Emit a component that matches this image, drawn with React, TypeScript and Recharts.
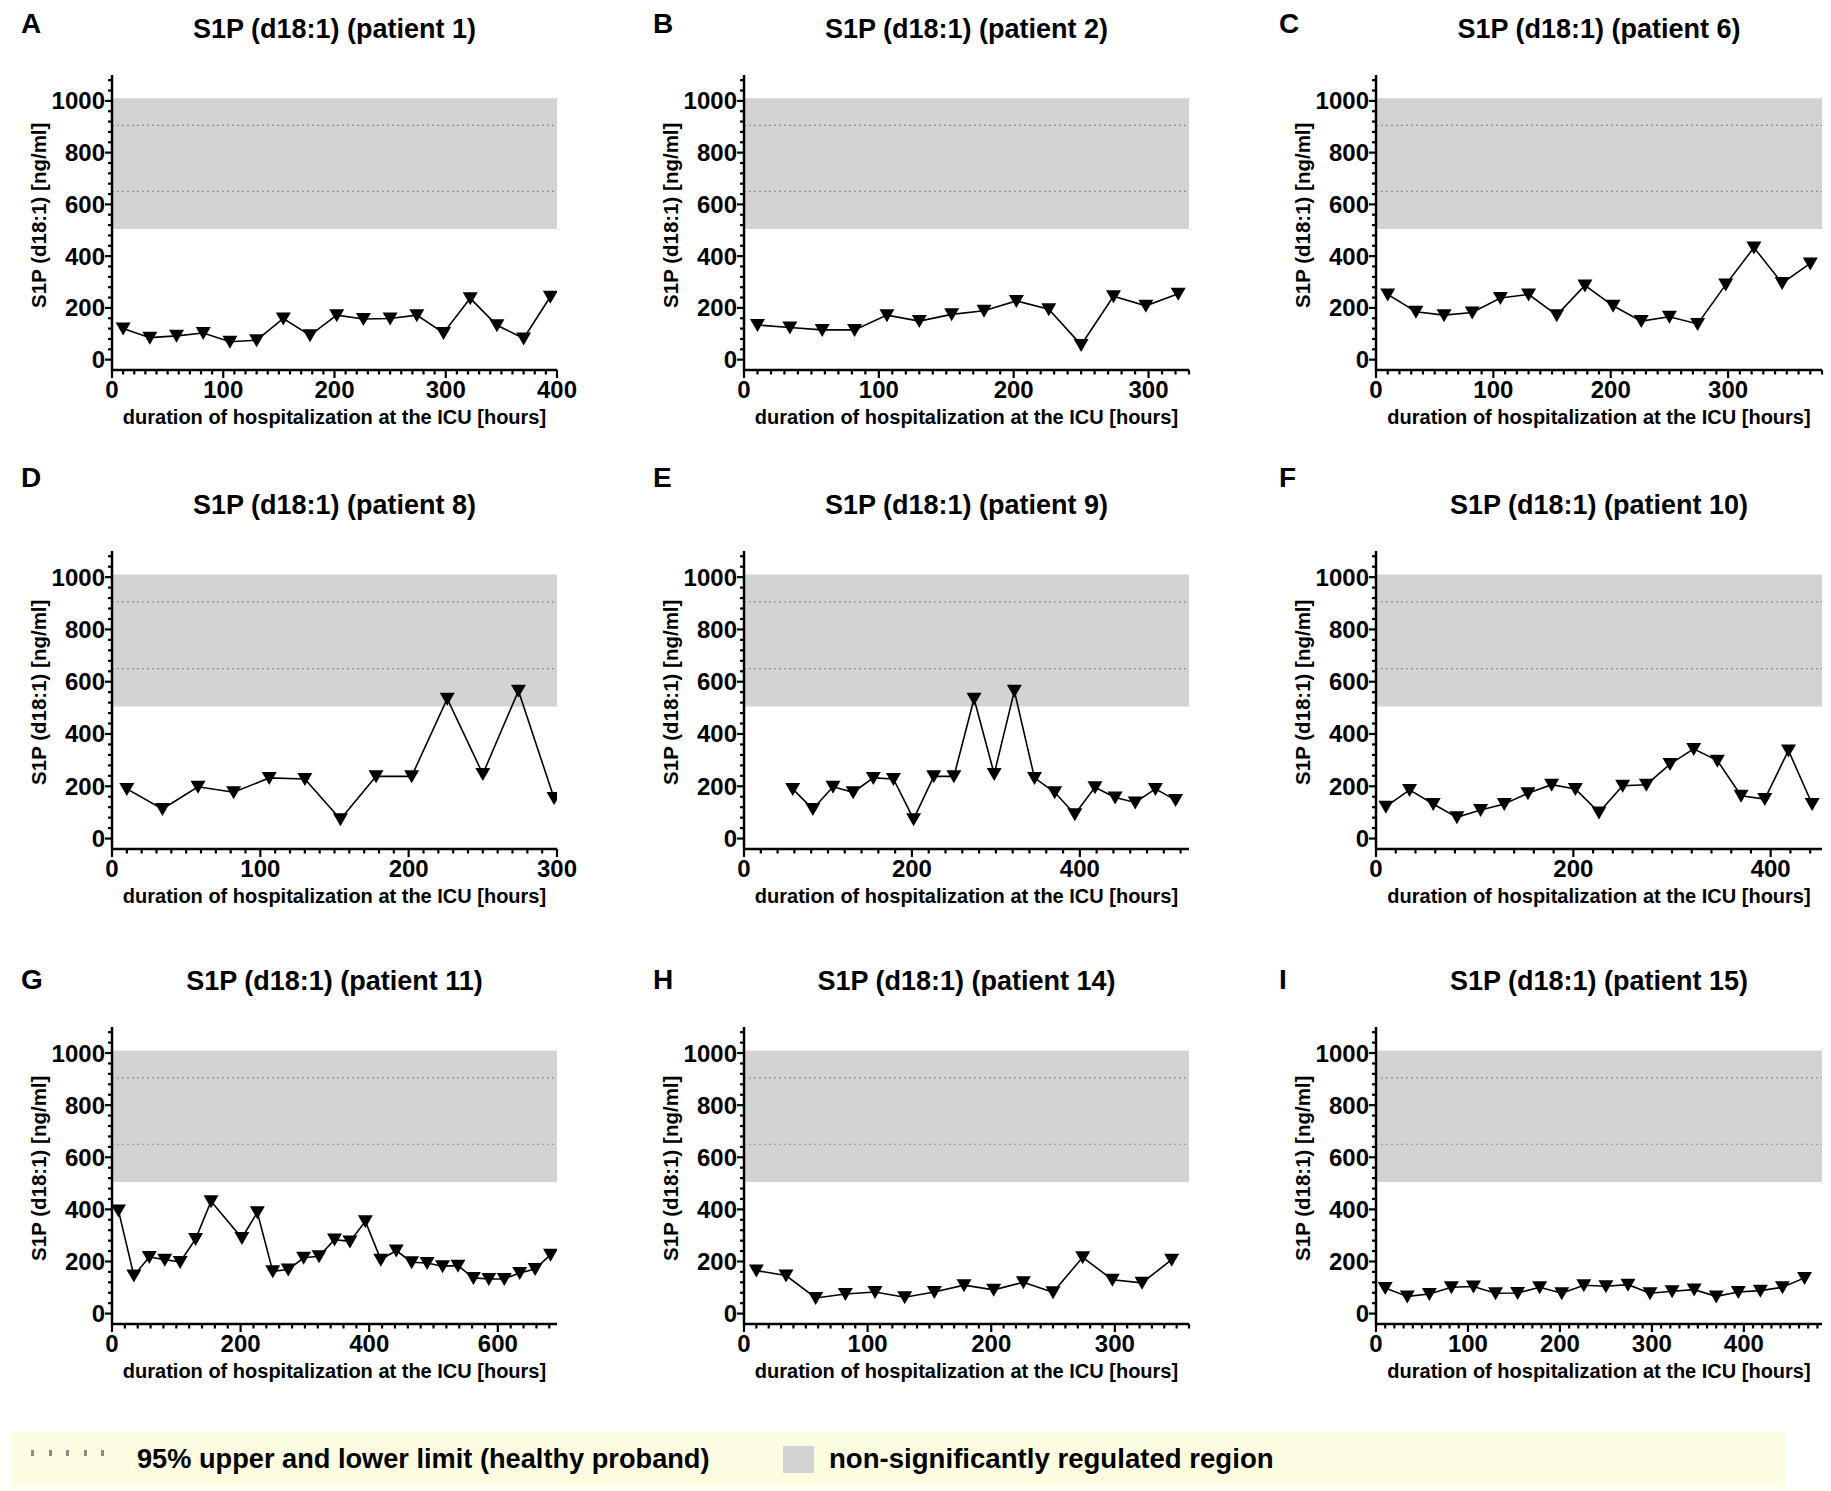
import React from 'react'
import {
  LineChart,
  Line,
  XAxis,
  YAxis,
  ReferenceArea,
  ReferenceLine,
} from 'recharts'

const FONT = '"Liberation Sans", Arial, Helvetica, sans-serif'

// sampling times [hours] and S1P (d18:1) [ng/ml] per patient
const hoursP1 = [10, 34, 58, 82, 106, 130, 154, 178, 202, 226, 250, 274, 298, 322, 346, 370, 394]
const s1pP1 = [120, 85, 92, 103, 69, 75, 159, 94, 172, 157, 159, 172, 103, 237, 133, 82, 243]

const hoursP2 = [10, 34, 58, 82, 106, 130, 154, 178, 202, 226, 250, 274, 298, 322]
const s1pP2 = [134, 124, 115, 115, 172, 149, 175, 189, 227, 195, 57, 245, 208, 255]

const hoursP6 = [10, 34, 58, 82, 106, 130, 154, 178, 202, 226, 250, 274, 298, 322, 346, 370]
const s1pP6 = [252, 185, 172, 182, 238, 252, 172, 287, 208, 149, 166, 138, 290, 433, 296, 372]

const hoursP8 = [10, 34, 58, 82, 106, 130, 154, 178, 202, 226, 250, 274, 298]
const s1pP8 = [190, 113, 198, 177, 232, 228, 74, 238, 238, 535, 247, 565, 155]

const hoursP9 = [58, 82, 106, 130, 154, 178, 202, 226, 250, 274, 298, 322, 346, 370, 394, 418, 442, 466, 490, 514]
const s1pP9 = [190, 113, 198, 177, 232, 228, 74, 238, 238, 535, 247, 565, 232, 177, 93, 196, 157, 138, 190, 147]

const hoursP10 = [10, 34, 58, 82, 106, 130, 154, 178, 202, 226, 250, 274, 298, 322, 346, 370, 394, 418, 442]
const s1pP10 = [122, 186, 132, 81, 109, 132, 173, 206, 190, 100, 202, 206, 285, 343, 298, 164, 151, 337, 132]

const hoursP11 = [10, 34, 58, 82, 106, 130, 154, 202, 226, 250, 274, 298, 322, 346, 370, 394, 418, 442, 466, 490, 514, 538, 562, 586, 610, 634, 658, 682]
const s1pP11 = [396, 146, 217, 207, 198, 286, 431, 290, 389, 162, 169, 214, 220, 284, 277, 354, 207, 242, 197, 194, 182, 184, 137, 133, 133, 156, 171, 226]

const hoursP14 = [10, 34, 58, 82, 106, 130, 154, 178, 202, 226, 250, 274, 298, 322, 346]
const s1pP14 = [165, 146, 60, 75, 83, 63, 83, 109, 91, 120, 82, 216, 130, 118, 207]

const hoursP15 = [10, 34, 58, 82, 106, 130, 154, 178, 202, 226, 250, 274, 298, 322, 346, 370, 394, 418, 442, 466]
const s1pP15 = [98, 66, 75, 101, 104, 78, 79, 101, 78, 109, 105, 111, 78, 86, 92, 66, 83, 88, 101, 137]

// axis ticks
const yMajorTicks = [0, 200, 400, 600, 800, 1000]
const yMinorStep = 40
const yDomain: [number, number] = [-40, 1100]
const xMajor100 = [0, 100, 200, 300, 400]
const xMajor200 = [0, 200, 400, 600]

// healthy proband limits and non-significant band
const bandLow = 505
const bandHigh = 1010
const limitUpper = 905
const limitLower = 650

// page layout (plot areas)
const colLeft = [112, 744, 1376]
const colRight = [557, 1189, 1822]
const rowTop = [75, 551, 1027]
const rowBottom = [370, 849, 1324]
const titleY = [30, 506, 982]
const letterY = [24, 478, 980]
const letterX = [21, 653, 1279]

interface Panel {
  letter: string
  patient: number
  hours: number[]
  values: number[]
  xMax: number
  xMajor: number[]
  xMinorStep: number
}

const panels: Panel[] = [
  { letter: 'A', patient: 1, hours: hoursP1, values: s1pP1, xMax: 400, xMajor: xMajor100, xMinorStep: 10 },
  { letter: 'B', patient: 2, hours: hoursP2, values: s1pP2, xMax: 330, xMajor: xMajor100, xMinorStep: 10 },
  { letter: 'C', patient: 6, hours: hoursP6, values: s1pP6, xMax: 380, xMajor: xMajor100, xMinorStep: 10 },
  { letter: 'D', patient: 8, hours: hoursP8, values: s1pP8, xMax: 300, xMajor: xMajor100, xMinorStep: 10 },
  { letter: 'E', patient: 9, hours: hoursP9, values: s1pP9, xMax: 530, xMajor: xMajor200, xMinorStep: 20 },
  { letter: 'F', patient: 10, hours: hoursP10, values: s1pP10, xMax: 452, xMajor: xMajor200, xMinorStep: 20 },
  { letter: 'G', patient: 11, hours: hoursP11, values: s1pP11, xMax: 692, xMajor: xMajor200, xMinorStep: 20 },
  { letter: 'H', patient: 14, hours: hoursP14, values: s1pP14, xMax: 360, xMajor: xMajor100, xMinorStep: 10 },
  { letter: 'I', patient: 15, hours: hoursP15, values: s1pP15, xMax: 485, xMajor: xMajor100, xMinorStep: 10 },
]

function stepTicks(max: number, step: number) {
  const t: number[] = []
  for (let v = 0; v <= max + 1e-9; v += step) t.push(v)
  return t
}

const yTicks = stepTicks(yDomain[1], yMinorStep)

function TriangleDot(props: any) {
  const { cx, cy, index } = props
  if (cx == null || cy == null) return <g key={`t-${index}`} />
  return (
    <path
      key={`t-${index}`}
      d={`M${cx - 7.5},${cy - 6} L${cx + 7.5},${cy - 6} L${cx},${cy + 7} Z`}
      fill="#000"
    />
  )
}

function PanelChart({ p, row, col }: { p: Panel; row: number; col: number }) {
  const ML = 100
  const MT = 10
  const MB = 70
  const MR = col === 2 ? 9 : 30
  const plotW = colRight[col] - colLeft[col]
  const plotH = rowBottom[row] - rowTop[row]
  const data = p.hours.map((h, i) => ({ h, v: p.values[i] }))
  const xTicks = stepTicks(p.xMax, p.xMinorStep)

  const renderXTick = (props: any) => {
    const { x, y, payload } = props
    const v = payload.value
    const major = p.xMajor.includes(v)
    return (
      <g key={`x-${v}`}>
        <line x1={x} x2={x} y1={y} y2={y + (major ? 8 : 4.5)} stroke="#000" strokeWidth={2.2} />
        {major && (
          <text x={x} y={y + 28} textAnchor="middle" fontFamily={FONT} fontWeight={700} fontSize={24} fill="#000">
            {v}
          </text>
        )}
      </g>
    )
  }

  const renderYTick = (props: any) => {
    const { x, y, payload } = props
    const v = payload.value
    const major = yMajorTicks.includes(v)
    return (
      <g key={`y-${v}`}>
        <line x1={x} x2={x - (major ? 7 : 4)} y1={y} y2={y} stroke="#000" strokeWidth={2.2} />
        {major && (
          <text x={x - 7} y={y + 8.5} textAnchor="end" fontFamily={FONT} fontWeight={700} fontSize={24} fill="#000">
            {v}
          </text>
        )}
      </g>
    )
  }

  const cx = (colLeft[col] + colRight[col]) / 2
  const labelCy = rowTop[row] + plotH / 2 - 8

  return (
    <>
      <div style={{ position: 'absolute', left: colLeft[col] - ML, top: rowTop[row] - MT }}>
        <LineChart
          width={plotW + ML + MR}
          height={plotH + MT + MB}
          data={data}
          margin={{ top: MT, right: MR, left: 0, bottom: 0 }}
        >
          <ReferenceArea y1={bandLow} y2={bandHigh} fill="#d3d3d3" fillOpacity={1} stroke="none" />
          <ReferenceLine y={limitUpper} stroke="#8e8e8e" strokeDasharray="2 3" strokeWidth={1.2} />
          <ReferenceLine y={limitLower} stroke="#8e8e8e" strokeDasharray="2 3" strokeWidth={1.2} />
          <XAxis
            dataKey="h"
            type="number"
            domain={[0, p.xMax]}
            ticks={xTicks}
            interval={0}
            tickSize={0}
            tickMargin={0}
            tickLine={false}
            axisLine={{ stroke: '#000', strokeWidth: 2.5 }}
            tick={renderXTick}
            height={MB}
            allowDataOverflow
          />
          <YAxis
            type="number"
            domain={yDomain}
            ticks={yTicks}
            interval={0}
            tickSize={0}
            tickMargin={0}
            tickLine={false}
            axisLine={{ stroke: '#000', strokeWidth: 2.5 }}
            tick={renderYTick}
            width={ML}
            allowDataOverflow
          />
          <Line
            type="linear"
            dataKey="v"
            stroke="#000"
            strokeWidth={1.6}
            dot={TriangleDot}
            activeDot={false}
            isAnimationActive={false}
          />
        </LineChart>
      </div>
      <div
        style={{
          position: 'absolute',
          left: letterX[col],
          top: letterY[row] - 14,
          fontSize: 28,
          lineHeight: 1,
          fontWeight: 700,
          fontFamily: FONT,
        }}
      >
        {p.letter}
      </div>
      <div
        style={{
          position: 'absolute',
          left: cx - 250,
          width: 500,
          top: titleY[row] - 14,
          textAlign: 'center',
          fontSize: 27,
          lineHeight: 1,
          fontWeight: 700,
          fontFamily: FONT,
          whiteSpace: 'nowrap',
        }}
      >
        S1P (d18:1) (patient {p.patient})
      </div>
      <div
        style={{
          position: 'absolute',
          left: cx - 250,
          width: 500,
          top: rowBottom[row] + 47 - 10,
          textAlign: 'center',
          fontSize: 20,
          lineHeight: 1,
          fontWeight: 700,
          fontFamily: FONT,
          whiteSpace: 'nowrap',
        }}
      >
        duration of hospitalization at the ICU [hours]
      </div>
      <div
        style={{
          position: 'absolute',
          left: colLeft[col] - 73 - 150,
          width: 300,
          top: labelCy - 10,
          textAlign: 'center',
          fontSize: 20.5,
          lineHeight: 1,
          fontWeight: 700,
          fontFamily: FONT,
          whiteSpace: 'nowrap',
          transform: 'rotate(-90deg)',
        }}
      >
        S1P (d18:1) [ng/ml]
      </div>
    </>
  )
}

const legendDots = [31, 49, 66, 84, 101]

export default function App() {
  return (
    <div
      style={{
        position: 'absolute',
        left: 0,
        top: 0,
        width: 1831,
        height: 1491,
        background: '#fff',
        overflow: 'hidden',
        color: '#000',
      }}
    >
      {panels.map((p, i) => (
        <PanelChart key={p.letter} p={p} row={Math.floor(i / 3)} col={i % 3} />
      ))}
      <div
        style={{
          position: 'absolute',
          left: 12,
          top: 1432,
          width: 1774,
          height: 54,
          background: '#fdfde2',
        }}
      />
      {legendDots.map((x) => (
        <div
          key={x}
          style={{ position: 'absolute', left: x, top: 1450, width: 2.5, height: 6, background: '#8a8a8a' }}
        />
      ))}
      <div
        style={{
          position: 'absolute',
          left: 137,
          top: 1459 - 14,
          fontSize: 27.2,
          lineHeight: 1,
          fontWeight: 700,
          fontFamily: FONT,
          whiteSpace: 'nowrap',
        }}
      >
        95% upper and lower limit (healthy proband)
      </div>
      <div
        style={{ position: 'absolute', left: 783, top: 1446, width: 31, height: 27, background: '#d3d3d3' }}
      />
      <div
        style={{
          position: 'absolute',
          left: 829,
          top: 1459 - 14,
          fontSize: 27.6,
          lineHeight: 1,
          fontWeight: 700,
          fontFamily: FONT,
          whiteSpace: 'nowrap',
        }}
      >
        non-significantly regulated region
      </div>
    </div>
  )
}
